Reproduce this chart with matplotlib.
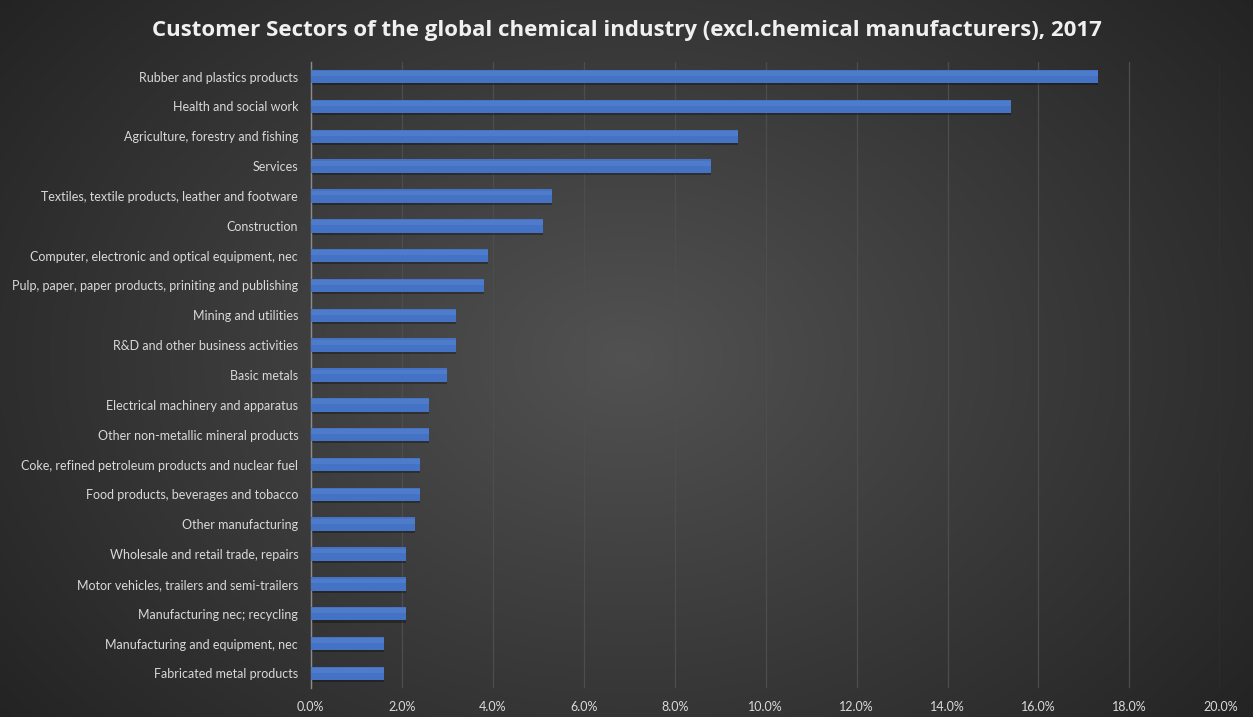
import numpy as np
import matplotlib
matplotlib.use("Agg")
import matplotlib.pyplot as plt
from matplotlib.ticker import FuncFormatter

# ----- DATA -----
sectors = [
    "Rubber and plastics products",
    "Health and social work",
    "Agriculture, forestry and fishing",
    "Services",
    "Textiles, textile products, leather and footware",
    "Construction",
    "Computer, electronic and optical equipment, nec",
    "Pulp, paper, paper products, priniting and publishing",
    "Mining and utilities",
    "R&D and other business activities",
    "Basic metals",
    "Electrical machinery and apparatus",
    "Other non-metallic mineral products",
    "Coke, refined petroleum products and nuclear fuel",
    "Food products, beverages and tobacco",
    "Other manufacturing",
    "Wholesale and retail trade, repairs",
    "Motor vehicles, trailers and semi-trailers",
    "Manufacturing nec; recycling",
    "Manufacturing and equipment, nec",
    "Fabricated metal products",
]
shares = [17.3, 15.4, 9.4, 8.8, 5.3, 5.1, 3.9, 3.8, 3.2, 3.2, 3.0,
          2.6, 2.6, 2.4, 2.4, 2.3, 2.1, 2.1, 2.1, 1.6, 1.6]
x_ticks = [0, 2, 4, 6, 8, 10, 12, 14, 16, 18, 20]

TEXT = "#d9d9d9"
BAR = "#4472c4"

fig = plt.figure(figsize=(12.53, 7.17), dpi=100)

# radial-ish gradient background
bg = fig.add_axes([0, 0, 1, 1], zorder=0)
yy, xx = np.mgrid[0:1:300j, 0:1:500j]
d = np.sqrt(((xx - 0.5) / 0.7) ** 2 + ((yy - 0.5) / 0.9) ** 2)
shade = np.clip(0.32 - 0.2 * d, 0.11, 0.33)
bg.imshow(np.dstack([shade] * 3), aspect="auto", extent=[0, 1, 0, 1],
          interpolation="bilinear")
bg.axis("off")

ax = fig.add_axes([0.248, 0.04, 0.726, 0.874], zorder=1)
ax.patch.set_alpha(0)

y = np.arange(len(sectors))
# soft shadow under bars
ax.barh(y + 0.07, shares, height=0.45, color="black", alpha=0.3, zorder=2, linewidth=0)
ax.barh(y, shares, height=0.45, color=BAR, zorder=3, linewidth=0)
ax.barh(y - 0.1, shares, height=0.16, color="#6a93dc", alpha=0.3, zorder=4, linewidth=0)

ax.set_ylim(len(sectors) - 0.5, -0.5)
ax.set_xlim(0, 20)
ax.set_yticks(y)
ax.set_yticklabels(sectors, fontsize=9, color=TEXT, family="Lato")
ax.set_xticks(x_ticks)
ax.xaxis.set_major_formatter(FuncFormatter(lambda v, p: f"{v:.1f}%"))
for lbl in ax.get_xticklabels():
    lbl.set_family("Lato")
ax.tick_params(axis="x", colors=TEXT, labelsize=9, length=0, pad=9)
ax.tick_params(axis="y", length=0, pad=9)

ax.grid(axis="x", color="#4d4d4d", linewidth=0.9, zorder=1)
ax.set_axisbelow(True)
for side in ["top", "right", "bottom"]:
    ax.spines[side].set_visible(False)
ax.spines["left"].set_color("#8c8c8c")
ax.spines["left"].set_linewidth(1)

fig.text(0.5, 0.957, "Customer Sectors of the global chemical industry (excl.chemical manufacturers), 2017",
         ha="center", va="center", fontsize=16, fontweight="bold",
         color="#f0f0f0", family="Open Sans")

fig.savefig("out.png", dpi=100)
